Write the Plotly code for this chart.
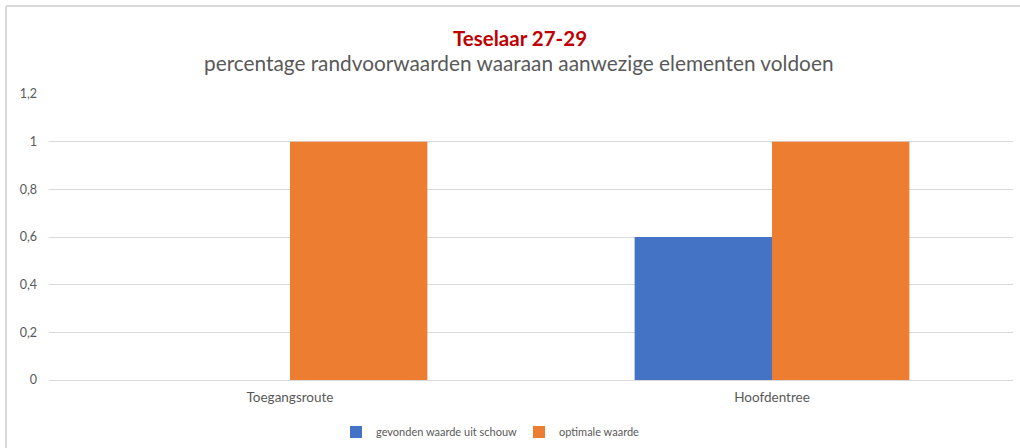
import plotly.graph_objects as go

categories = ["Toegangsroute", "Hoofdentree"]
gevonden = [0, 0.6]
optimaal = [1, 1]
series_names = ["gevonden waarde uit schouw", "optimale waarde"]
y_ticks = [0, 0.2, 0.4, 0.6, 0.8, 1, 1.2]
y_ticktext = ["0", "0,2", "0,4", "0,6", "0,8", "1", "1,2"]

FONT = "Lato, Open Sans, sans-serif"
GREY = "#595959"

fig = go.Figure()
fig.add_trace(go.Bar(x=categories, y=gevonden, name=series_names[0],
                     marker=dict(color="#4472C4", line=dict(width=0))))
fig.add_trace(go.Bar(x=categories, y=optimaal, name=series_names[1],
                     marker=dict(color="#ED7D31", line=dict(width=0))))

L, R, T, B = 49, 7, 94, 68
W, H = 1020, 448
pw, ph = W - L - R, H - T - B

def px(x):
    return (x - L) / pw

def py(y):
    return (H - B - y) / ph

fig.update_layout(
    width=W, height=H,
    margin=dict(l=L, r=R, t=T, b=B, autoexpand=False),
    paper_bgcolor="white", plot_bgcolor="white",
    barmode="group", bargap=0.43, bargroupgap=0,
    font=dict(family=FONT, color=GREY, size=12),
    showlegend=True,
    legend=dict(orientation="h", x=px(336), xanchor="left", y=py(432), yanchor="middle",
                font=dict(size=11, color=GREY), itemwidth=30, traceorder="normal",
                entrywidth=138, entrywidthmode="pixels"),
    xaxis=dict(showgrid=False, showline=True, linecolor="#d9d9d9", linewidth=1,
               tickfont=dict(size=13.5, color=GREY), ticks="", ticklabelstandoff=5),
    yaxis=dict(range=[0, 1.2], tickvals=y_ticks, ticktext=y_ticktext,
               showgrid=True, gridcolor="#d9d9d9", gridwidth=1, zeroline=False,
               showline=False, tickfont=dict(size=12.5, color=GREY), ticklabelstandoff=11),
    annotations=[
        dict(text="<b>Teselaar 27-29</b>", x=px(520), xref="paper", xanchor="center",
             y=py(38), yref="paper", yanchor="middle", showarrow=False,
             font=dict(size=20.5, color="#C00000", family=FONT)),
        dict(text="percentage randvoorwaarden waaraan aanwezige elementen voldoen",
             x=px(519), xref="paper", xanchor="center",
             y=py(62), yref="paper", yanchor="middle", showarrow=False,
             font=dict(size=20.8, color=GREY, family=FONT)),
    ],
    shapes=[
        dict(type="line", xref="paper", yref="paper", x0=px(6), x1=px(1020), y0=py(6), y1=py(6),
             line=dict(color="#d9d9d9", width=2)),
        dict(type="line", xref="paper", yref="paper", x0=px(6), x1=px(6), y0=py(6), y1=py(448),
             line=dict(color="#d9d9d9", width=2)),
    ],
)

fig.write_html("out.html", config={"displayModeBar": False},
               post_script="document.body.style.margin='0';")
